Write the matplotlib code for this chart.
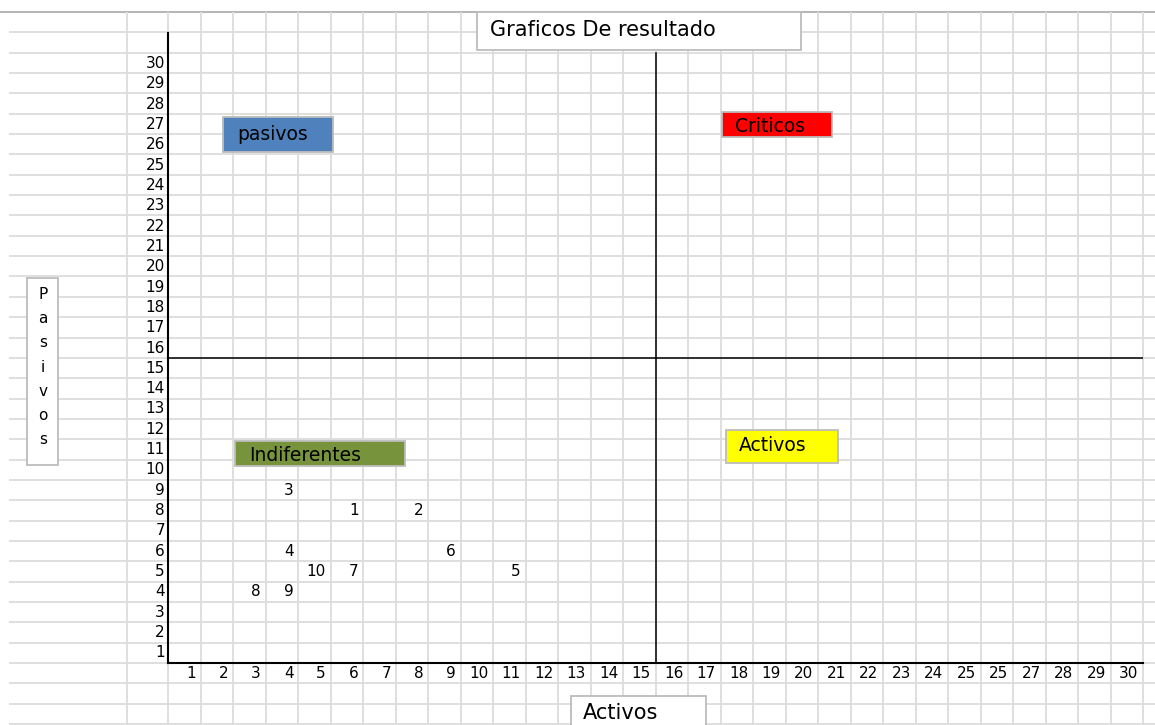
import numpy as np
from matplotlib import pyplot as plt
from matplotlib.patches import Rectangle

# valores del grafico (activos = eje x, pasivos = eje y)
etiquetas = ['1', '2', '3', '4', '5', '6', '7', '8', '9', '10']
activos = [6, 8, 4, 4, 11, 9, 6, 3, 4, 5]
pasivos = [8, 8, 9, 6, 5, 6, 5, 4, 4, 5]

x_ticks = list(range(1, 31))
x_tick_labels = [str(i) for i in range(1, 26)] + ['25', '27', '28', '29', '30']
y_ticks = list(range(1, 31))
y_tick_labels = [str(i) for i in range(1, 31)]
corte = 15

W, H = 1155, 725
fig = plt.figure(figsize=(W / 100, H / 100), dpi=100)
fig.patch.set_facecolor('white')

# fondo tipo hoja de calculo, en pixeles
bg = fig.add_axes([0, 0, 1, 1])
bg.set_xlim(0, W)
bg.set_ylim(H, 0)
bg.axis('off')

grid_c = '#dcdcdc'
row_h = (663 - 12) / 32
rows = 12 + row_h * np.arange(0, 36)
rows = rows[rows < H]
bg.hlines(rows[1:], 9, W, color=grid_c, lw=1.3)
bg.hlines(12, 0, W, color='#a8a8a8', lw=1.2)
cols = [127] + list(168 + 32.5 * np.arange(0, 31))
bg.vlines(cols, 12, H, color=grid_c, lw=1.3)


def caja(x0, y0, x1, y1, texto, fc, tx, ty, size, ha='left'):
    bg.add_patch(Rectangle((x0, y0), x1 - x0, y1 - y0, facecolor=fc,
                           edgecolor='#bcbcbc', lw=1.3, zorder=3))
    bg.text(tx, ty, texto, ha=ha, va='center', fontsize=size,
            color='black', zorder=4)


caja(477, 12, 801, 50, 'Graficos De resultado', 'white', 490, 30, 15)
caja(223, 117, 333, 152, 'pasivos', '#4f81bd', 237, 134, 13.5)
caja(722, 112, 832, 137, 'Criticos', '#ff0000', 735, 126, 13.5)
caja(235, 441, 405, 466, 'Indiferentes', '#77933c', 249, 455, 13.5)
caja(726, 430, 838, 463, 'Activos', '#ffff00', 739, 445, 13.5)
caja(571, 696, 706, 740, 'Activos', 'white', 583, 713, 15)
caja(27, 278, 58, 465, '', 'white', 0, 0, 10)
bg.text(43, 367, '\n'.join('Pasivos'), ha='center', va='center',
        fontsize=11, linespacing=1.77, zorder=4)

# ejes principales
ax = fig.add_axes([168 / W, (H - 663) / H, (1143 - 168) / W, (663 - 33) / H])
ax.patch.set_alpha(0)
ax.set_xlim(0, 30)
ax.set_ylim(0, 31)
for s in ['top', 'right']:
    ax.spines[s].set_visible(False)
for s in ['left', 'bottom']:
    ax.spines[s].set_linewidth(1.5)
    ax.spines[s].set_color('black')

ax.set_xticks(np.array(x_ticks) - 0.14, x_tick_labels)
ax.set_yticks(np.array(y_ticks) - 0.5, y_tick_labels)
ax.tick_params(axis='x', length=0, pad=7.2, labelsize=11)
ax.tick_params(axis='y', length=0, pad=2.2, labelsize=11)
for lb in ax.get_xticklabels():
    lb.set_horizontalalignment('right')
    lb.set_verticalalignment('center')
for lb in ax.get_yticklabels():
    lb.set_verticalalignment('center')

ax.plot([corte, corte], [0, 30], color='black', lw=1.1)
ax.plot([0, 30], [corte, corte], color='black', lw=1.1)

for lab, xa, yp in zip(etiquetas, activos, pasivos):
    ax.text(xa - 0.14, yp - 0.5, lab, ha='right', va='center', fontsize=11)

fig.savefig('out.png', dpi=100)
